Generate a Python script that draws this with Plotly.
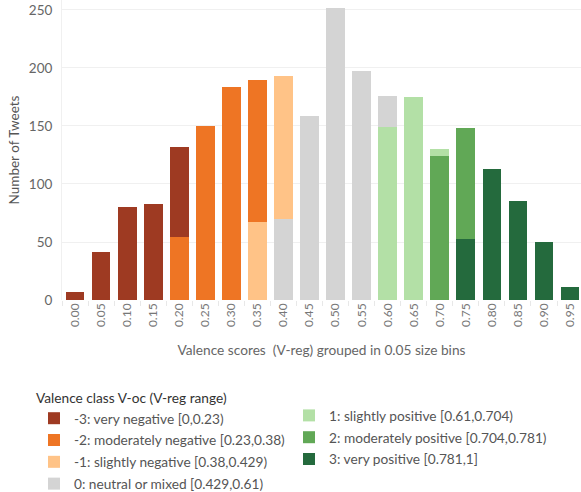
import plotly.graph_objects as go

bins = ["0.00", "0.05", "0.10", "0.15", "0.20", "0.25", "0.30", "0.35", "0.40", "0.45",
        "0.50", "0.55", "0.60", "0.65", "0.70", "0.75", "0.80", "0.85", "0.90", "0.95"]

very_neg   = [7, 41, 80, 83, 78, None, None, None, None, None, None, None, None, None, None, None, None, None, None, None]
mod_neg    = [None, None, None, None, 54, 150, 184, 123, None, None, None, None, None, None, None, None, None, None, None, None]
slight_neg = [None, None, None, None, None, None, None, 67, 123, None, None, None, None, None, None, None, None, None, None, None]
neutral    = [None, None, None, None, None, None, None, None, 70, 159, 252, 197, 27, None, None, None, None, None, None, None]
slight_pos = [None, None, None, None, None, None, None, None, None, None, None, None, 149, 175, 6, None, None, None, None, None]
mod_pos    = [None, None, None, None, None, None, None, None, None, None, None, None, None, None, 124, 95, None, None, None, None]
very_pos   = [None, None, None, None, None, None, None, None, None, None, None, None, None, None, None, 53, 113, 85, 50, 11]

names = {
    "vn": "-3: very negative [0,0.23)",
    "mn": "-2: moderately negative [0.23,0.38)",
    "sn": "-1: slightly negative [0.38,0.429)",
    "ne": "0: neutral or mixed [0.429,0.61)",
    "sp": "1: slightly positive [0.61,0.704)",
    "mp": "2: moderately positive [0.704,0.781)",
    "vp": "3: very positive [0.781,1]",
}
colors = {
    "vn": "#9E3A22", "mn": "#EE7524", "sn": "#FFC387", "ne": "#D4D4D4",
    "sp": "#B3E0A6", "mp": "#61A856", "vp": "#246A3D",
}

FONT = "Lato"
fig = go.Figure()
# stacking order bottom -> top: very positive ... very negative
series = [("vp", very_pos, "legend2", 3), ("mp", mod_pos, "legend2", 2), ("sp", slight_pos, "legend2", 1),
          ("ne", neutral, "legend", 4), ("sn", slight_neg, "legend", 3), ("mn", mod_neg, "legend", 2),
          ("vn", very_neg, "legend", 1)]
for key, vals, leg, rank in series:
    fig.add_trace(go.Bar(x=bins, y=vals, name=names[key], marker_color=colors[key],
                         marker_line_width=0, legend=leg, legendrank=rank, legendgroup=key))

fig.update_layout(
    width=581, height=492,
    barmode="stack", bargap=0.28,
    plot_bgcolor="white", paper_bgcolor="white",
    margin=dict(l=62, r=0, t=0, b=192, autoexpand=False),
    font=dict(family=FONT, size=12, color="#666666"),
    xaxis=dict(type="category", range=[-0.5, 19.42], tickangle=-90, automargin=False,
               tickfont=dict(size=12, color="#777777"),
               showgrid=False, ticks="outside", tickson="boundaries", ticklen=5, tickcolor="#E8E8E8",
               showline=False,
               title=dict(text="Valence scores  (V-reg) grouped in 0.05 size bins",
                          font=dict(size=13.7, color="#666666"), standoff=19)),
    yaxis=dict(range=[0, 258.6], tickvals=[0, 50, 100, 150, 200, 250], automargin=False,
               tickfont=dict(size=13.5, color="#666666"),
               showgrid=True, gridcolor="#F0F0F0", zeroline=False,
               showline=True, linecolor="#F0F0F0", ticks="", ticklabelstandoff=6,
               title=dict(text="Number of Tweets", font=dict(size=13.5, color="#555555"), standoff=6)),
    legend=dict(x=-0.054, y=-0.2833, xanchor="left", yanchor="top", traceorder="grouped",
                title=dict(text="Valence class V-oc (V-reg range)",
                           font=dict(size=13.7, color="#333333")),
                font=dict(size=13.7, color="#555555"), tracegroupgap=1,
                itemwidth=30, bgcolor="rgba(0,0,0,0)"),
    legend2=dict(x=0.4374, y=-0.3333, xanchor="left", yanchor="top", traceorder="grouped",
                 font=dict(size=13.7, color="#555555"), tracegroupgap=1,
                 itemwidth=30, bgcolor="rgba(0,0,0,0)"),
)

fig.write_html("out.html", config={"displayModeBar": False},
               post_script="document.body.style.margin='0px';")
